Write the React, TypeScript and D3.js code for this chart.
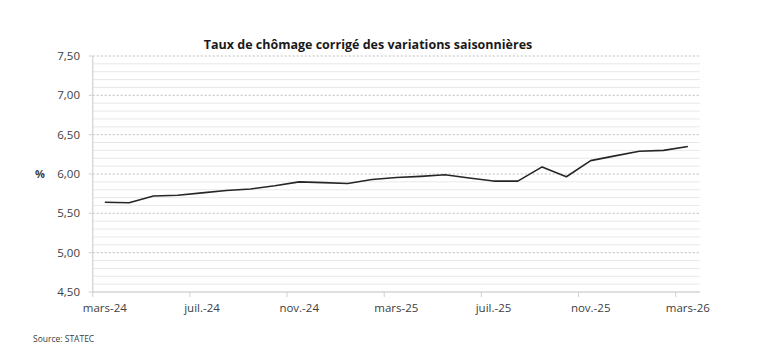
import React from "react";
import * as d3 from "d3";

const months: string[] = [
  "mars-24", "avr.-24", "mai-24", "juin-24", "juil.-24", "août-24", "sept.-24", "oct.-24",
  "nov.-24", "déc.-24", "janv.-25", "févr.-25", "mars-25", "avr.-25", "mai-25", "juin-25",
  "juil.-25", "août-25", "sept.-25", "oct.-25", "nov.-25", "déc.-25", "janv.-26", "févr.-26",
  "mars-26",
];
const rates: number[] = [
  5.64, 5.635, 5.72, 5.73, 5.76, 5.79, 5.81, 5.85, 5.9, 5.89, 5.88, 5.93, 5.955, 5.97, 5.99,
  5.95, 5.91, 5.91, 6.09, 5.965, 6.17, 6.23, 6.29, 6.3, 6.35,
];
const yMajorTicks: number[] = [4.5, 5.0, 5.5, 6.0, 6.5, 7.0, 7.5];
const yMinorTicks: number[] = d3.range(45, 76).map((v) => v / 10);
const labelEvery = 4;

const title = "Taux de chômage corrigé des variations saisonnières";
const unitLabel = "%";
const source = "Source: STATEC";

const W = 776;
const H = 356;
const left = 92.7;
const right = 700;
const top = 56;
const bottom = 292;
const FONT = "'Open Sans', 'Noto Sans', sans-serif";

export default function App() {
  const x = d3.scaleBand<string>().domain(months).range([left, right]).padding(0);
  const y = d3.scaleLinear().domain([4.5, 7.5]).range([bottom, top]);
  const cx = (m: string) => (x(m) as number) + x.bandwidth() / 2;
  const line = d3
    .line<number>()
    .x((_, i) => cx(months[i]))
    .y((d) => y(d));
  const fmt = (v: number) => v.toFixed(2).replace(".", ",");
  const tickIdx = d3.range(0, months.length, labelEvery);

  return (
    <svg
      width={W}
      height={H}
      style={{ position: "absolute", left: 0, top: 0, background: "#fff" }}
      fontFamily={FONT}
    >
      <rect x={0} y={0} width={W} height={H} fill="#fff" />
      {yMinorTicks
        .filter((v) => !yMajorTicks.some((m) => Math.abs(m - v) < 1e-6))
        .map((v) => (
          <line key={"mi" + v} x1={left} x2={right} y1={y(v)} y2={y(v)} stroke="#e8e8e8" strokeWidth={1} />
        ))}
      {yMajorTicks.map((v) => (
        <g key={"ma" + v}>
          {v > 4.5 && (
            <line x1={left} x2={right} y1={y(v)} y2={y(v)} stroke="#bdbdbd" strokeWidth={1} strokeDasharray="2,2" />
          )}
          <line x1={left - 4} x2={left} y1={y(v)} y2={y(v)} stroke="#d0d0d0" strokeWidth={1} />
          <text x={80} y={y(v)} dy="0.35em" textAnchor="end" fontSize={11.5} fill="#404040">
            {fmt(v)}
          </text>
        </g>
      ))}
      <line x1={left} x2={left} y1={top} y2={bottom} stroke="#d9d9d9" strokeWidth={1.5} />
      <line x1={left} x2={right} y1={bottom} y2={bottom} stroke="#bfbfbf" strokeWidth={1} />
      {tickIdx.map((i) => (
        <g key={"xt" + i}>
          <line
            x1={x(months[i]) as number}
            x2={x(months[i]) as number}
            y1={bottom}
            y2={bottom + 5}
            stroke="#d0d0d0"
            strokeWidth={1}
          />
          <text x={cx(months[i])} y={312} textAnchor="middle" fontSize={11.5} fill="#404040">
            {months[i]}
          </text>
        </g>
      ))}
      <path d={line(rates) || ""} fill="none" stroke="#262626" strokeWidth={1.6} strokeLinejoin="round" />
      <text x={368} y={48.5} textAnchor="middle" fontSize={12.5} fontWeight="bold" fill="#1a1a1a">
        {title}
      </text>
      <text x={40} y={y(6.0)} dy="0.35em" textAnchor="middle" fontSize={11} fontWeight="bold" fill="#404040">
        {unitLabel}
      </text>
      <text x={33} y={342} fontSize={8.5} fill="#404040">
        {source}
      </text>
    </svg>
  );
}
